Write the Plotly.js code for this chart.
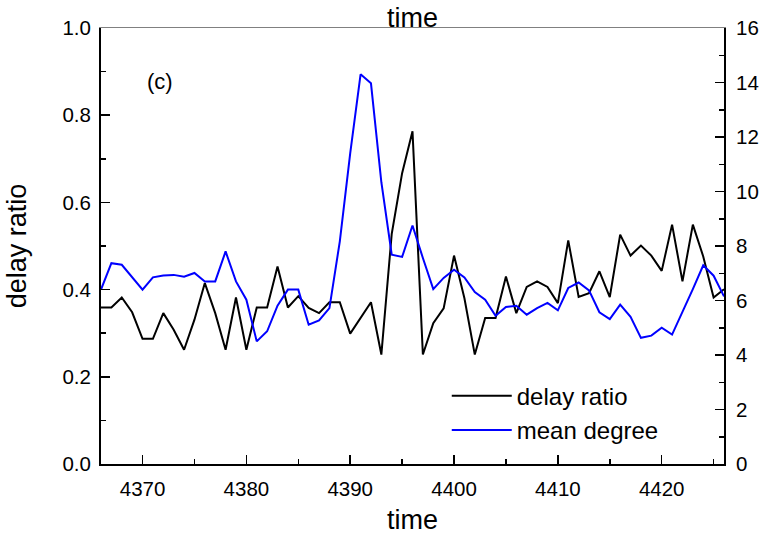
<!DOCTYPE html>
<html>
<head>
<meta charset="utf-8">
<script src="https://cdn.plot.ly/plotly-3.0.1.min.js"></script>
<style>html,body{margin:0;padding:0;background:#fff;}#chart{width:761px;height:540px;}</style>
</head>
<body>
<div id="chart"></div>
<script>
const time = [4366,4367,4368,4369,4370,4371,4372,4373,4374,4375,4376,4377,4378,4379,4380,4381,4382,4383,4384,4385,4386,4387,4388,4389,4390,4391,4392,4393,4394,4395,4396,4397,4398,4399,4400,4401,4402,4403,4404,4405,4406,4407,4408,4409,4410,4411,4412,4413,4414,4415,4416,4417,4418,4419,4420,4421,4422,4423,4424,4425,4426];

const delayRatio = [0.359,0.359,0.382,0.348,0.287,0.287,0.346,0.308,0.262,0.331,0.415,0.346,0.262,0.382,0.262,0.359,0.359,0.453,0.359,0.385,0.358,0.346,0.371,0.371,0.299,0.335,0.371,0.251,0.528,0.667,0.763,0.251,0.323,0.357,0.478,0.380,0.251,0.335,0.335,0.430,0.346,0.406,0.419,0.406,0.369,0.513,0.383,0.392,0.442,0.383,0.526,0.478,0.501,0.478,0.443,0.549,0.419,0.549,0.476,0.382,0.401];

const meanDegree = [6.40,7.37,7.31,6.85,6.40,6.85,6.92,6.94,6.87,7.01,6.70,6.70,7.80,6.70,6.03,4.50,4.87,5.81,6.40,6.40,5.11,5.27,5.72,8.17,11.4,14.30,13.97,10.34,7.68,7.60,8.75,7.56,6.42,6.83,7.13,6.85,6.31,6.03,5.44,5.76,5.81,5.48,5.72,5.91,5.64,6.46,6.66,6.37,5.57,5.32,5.85,5.40,4.63,4.71,5.00,4.75,5.57,6.42,7.29,6.91,6.15];

const seriesNames = ['delay ratio', 'mean degree'];
const xTitle = 'time';
const yTitle = 'delay ratio';
const panelLabel = '(c)';

const FONT = 'Liberation Sans, Arial, sans-serif';

const traces = [
  {x: time, y: delayRatio, name: seriesNames[0], type: 'scatter', mode: 'lines',
   line: {color: '#000000', width: 2}, xaxis: 'x', yaxis: 'y'},
  {x: time, y: meanDegree, name: seriesNames[1], type: 'scatter', mode: 'lines',
   line: {color: '#0000ff', width: 2}, xaxis: 'x2', yaxis: 'y2'}
];

const tickCommon = {
  ticks: 'inside', ticklen: 9, tickwidth: 1.5, tickcolor: '#000',
  showline: true, linecolor: '#000', linewidth: 2,
  showgrid: false, zeroline: false,
  tickfont: {family: FONT, size: 20.5, color: '#000'}
};

const layout = {
  width: 761, height: 540,
  margin: {l: 101, r: 37, t: 28, b: 76},
  paper_bgcolor: '#fff', plot_bgcolor: '#fff',
  font: {family: FONT, color: '#000'},
  showlegend: true,
  legend: {x: 0.555, y: 0.207, xanchor: 'left', yanchor: 'top',
           bgcolor: 'rgba(0,0,0,0)', font: {family: FONT, size: 24, color: '#000'},
           itemwidth: 60, tracegroupgap: 0},
  xaxis: Object.assign({}, tickCommon, {
    range: [4366, 4426], tick0: 4370, dtick: 10,
    minor: {dtick: 5, ticks: 'inside', ticklen: 5, tickwidth: 1.5, tickcolor: '#000'},
    ticklabelstandoff: 5,
    title: {text: xTitle, font: {family: FONT, size: 27, color: '#000'}, standoff: 12}
  }),
  xaxis2: {
    overlaying: 'x', side: 'top', anchor: 'y', matches: 'x',
    range: [4366, 4426], showline: true, linecolor: '#808080', linewidth: 1,
    ticks: '', showticklabels: false, showgrid: false, zeroline: false
  },
  yaxis: Object.assign({}, tickCommon, {
    range: [0, 1], tick0: 0, dtick: 0.2, tickformat: '.1f',
    minor: {dtick: 0.1, ticks: 'inside', ticklen: 5, tickwidth: 1.5, tickcolor: '#000'},
    ticklabelstandoff: 4,
    title: {text: yTitle, font: {family: FONT, size: 27, color: '#000'}, standoff: 28}
  }),
  yaxis2: Object.assign({}, tickCommon, {
    overlaying: 'y', side: 'right', anchor: 'x',
    range: [0, 16], tick0: 0, dtick: 2,
    minor: {dtick: 1, ticks: 'inside', ticklen: 5, tickwidth: 1.5, tickcolor: '#000'},
    ticklabelstandoff: 6
  }),
  annotations: [
    {text: panelLabel, xref: 'paper', yref: 'paper',
     x: (160 - 101) / 623, y: (464 - 81) / 436, xanchor: 'center', yanchor: 'middle',
     showarrow: false, font: {family: FONT, size: 22, color: '#000'}},
    {text: xTitle, xref: 'paper', yref: 'paper', x: 0.5, y: 1,
     xanchor: 'center', yanchor: 'bottom', yshift: -7,
     showarrow: false, font: {family: FONT, size: 27, color: '#000'}}
  ]
};

Plotly.newPlot('chart', traces, layout, {displayModeBar: false, staticPlot: true});
</script>
</body>
</html>
